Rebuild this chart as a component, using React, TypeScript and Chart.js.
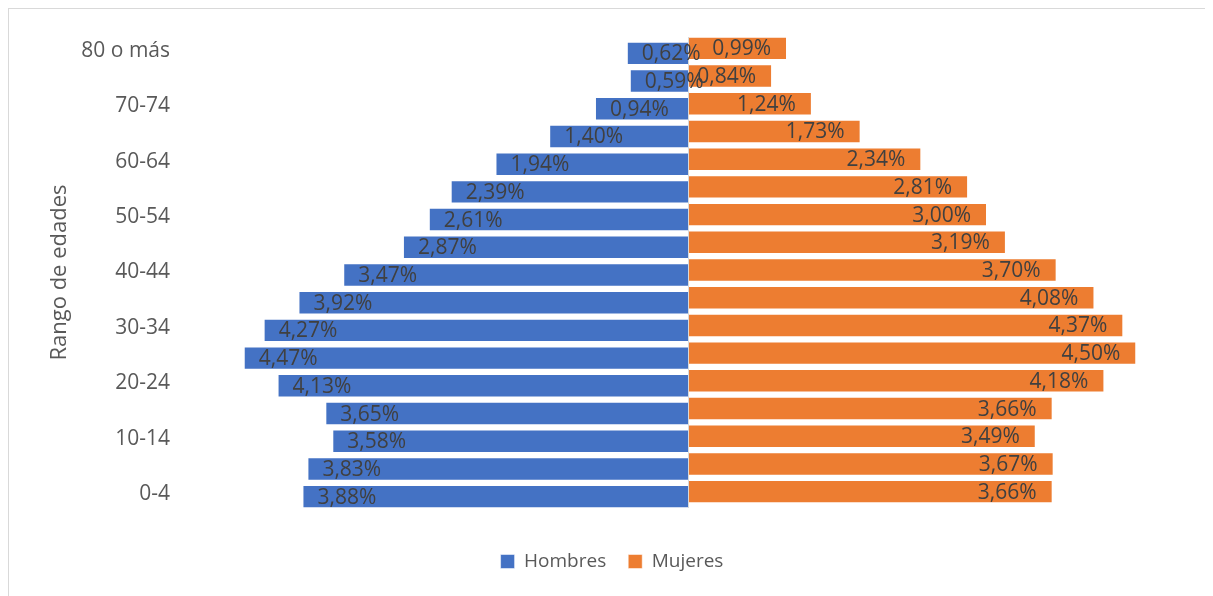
import React, { useEffect, useRef } from "react";
import { Chart, registerables } from "chart.js";

Chart.register(...registerables);

const categories = [
  "0-4", "5-9", "10-14", "15-19", "20-24", "25-29", "30-34", "35-39", "40-44",
  "45-49", "50-54", "55-59", "60-64", "65-69", "70-74", "75-79", "80 o más",
];
const hombres = [3.88, 3.83, 3.58, 3.65, 4.13, 4.47, 4.27, 3.92, 3.47, 2.87, 2.61, 2.39, 1.94, 1.40, 0.94, 0.59, 0.62];
const mujeres = [3.66, 3.67, 3.49, 3.66, 4.18, 4.50, 4.37, 4.08, 3.70, 3.19, 3.00, 2.81, 2.34, 1.73, 1.24, 0.84, 0.99];
const shownTicks = ["0-4", "10-14", "20-24", "30-34", "40-44", "50-54", "60-64", "70-74", "80 o más"];
const axisTitle = "Rango de edades";

const FONT = '"Open Sans", "Noto Sans", sans-serif';

const labelPlugin = {
  id: "barLabels",
  afterDatasetsDraw(chart: any) {
    const ctx = chart.ctx;
    ctx.save();
    ctx.font = `21px ${FONT}`;
    ctx.fillStyle = "#404040";
    ctx.textBaseline = "middle";
    chart.data.datasets.forEach((ds: any, di: number) => {
      const meta = chart.getDatasetMeta(di);
      meta.data.forEach((bar: any, i: number) => {
        const v = Math.abs(ds.data[i]);
        const text = v.toFixed(2).replace(".", ",") + "%";
        if (ds.label === "Hombres") {
          ctx.textAlign = "left";
          ctx.fillText(text, bar.x + 15, bar.y + 1);
        } else {
          ctx.textAlign = "right";
          ctx.fillText(text, bar.x - 16, bar.y + 1);
        }
      });
    });
    ctx.restore();
  },
};

export default function App() {
  const ref = useRef<HTMLCanvasElement | null>(null);
  useEffect(() => {
    document.documentElement.style.overflow = "hidden";
    if (!ref.current) return;
    const chart = new Chart(ref.current, {
      type: "bar",
      data: {
        labels: categories,
        datasets: [
          {
            label: "Mujeres",
            data: mujeres,
            backgroundColor: "#ED7D31",
            borderColor: "rgba(255,255,255,0.5)",
            borderWidth: 1,
            categoryPercentage: 0.36,
            barPercentage: 4.7,
          },
          {
            label: "Hombres",
            data: hombres.map((v) => -v),
            backgroundColor: "#4472C4",
            borderColor: "rgba(255,255,255,0.5)",
            borderWidth: 1,
            categoryPercentage: 0.36,
            barPercentage: 4.7,
          },
        ],
      },
      options: {
        indexAxis: "y",
        animation: false,
        responsive: true,
        maintainAspectRatio: false,
        layout: { padding: { left: 30, right: 27, top: 29, bottom: 15 } },
        scales: {
          x: {
            min: -5,
            max: 5,
            ticks: { display: false, stepSize: 1 },
            border: { display: false },
            grid: {
              drawTicks: false,
              color: (c: any) => (c.tick && c.tick.value === 0 ? "#d9d9d9" : "rgba(0,0,0,0)"),
            },
            afterFit: (s: any) => {
              s.height = 22;
            },
          },
          y: {
            reverse: true,
            grid: { display: false, drawTicks: false },
            border: { display: false },
            afterFit: (s: any) => {
              s.width = 153;
              s.paddingTop = 0;
              s.paddingBottom = 0;
            },
            ticks: {
              autoSkip: false,
              padding: 21,
              color: "#595959",
              font: { family: FONT, size: 21 },
              callback: function (this: any, value: any) {
                const lbl = this.getLabelForValue(value);
                return shownTicks.includes(lbl) ? lbl : "";
              },
            },
            title: {
              display: true,
              text: axisTitle,
              color: "#595959",
              font: { family: FONT, size: 22 },
              padding: { top: 9, bottom: 8 },
            },
          },
        },
        plugins: {
          legend: {
            position: "bottom",
            labels: {
              boxWidth: 14,
              boxHeight: 14,
              padding: 22,
              color: "#595959",
              font: { family: FONT, size: 19 },
              sort: (a: any, b: any) => b.datasetIndex - a.datasetIndex,
            },
          },
          tooltip: { enabled: false },
        },
      },
      plugins: [labelPlugin],
    } as any);
    return () => chart.destroy();
  }, []);

  return (
    <div
      style={{
        marginLeft: -1,
        marginTop: -1,
        width: 1230,
        height: 610,
        boxSizing: "border-box",
        borderTop: "2px solid #d9d9d9",
        borderLeft: "2px solid #d9d9d9",
        overflow: "hidden",
      }}
    >
      <div style={{ position: "relative", width: 1205, height: 588, marginTop: -1, marginLeft: -1 }}>
        <canvas ref={ref} />
      </div>
    </div>
  );
}
